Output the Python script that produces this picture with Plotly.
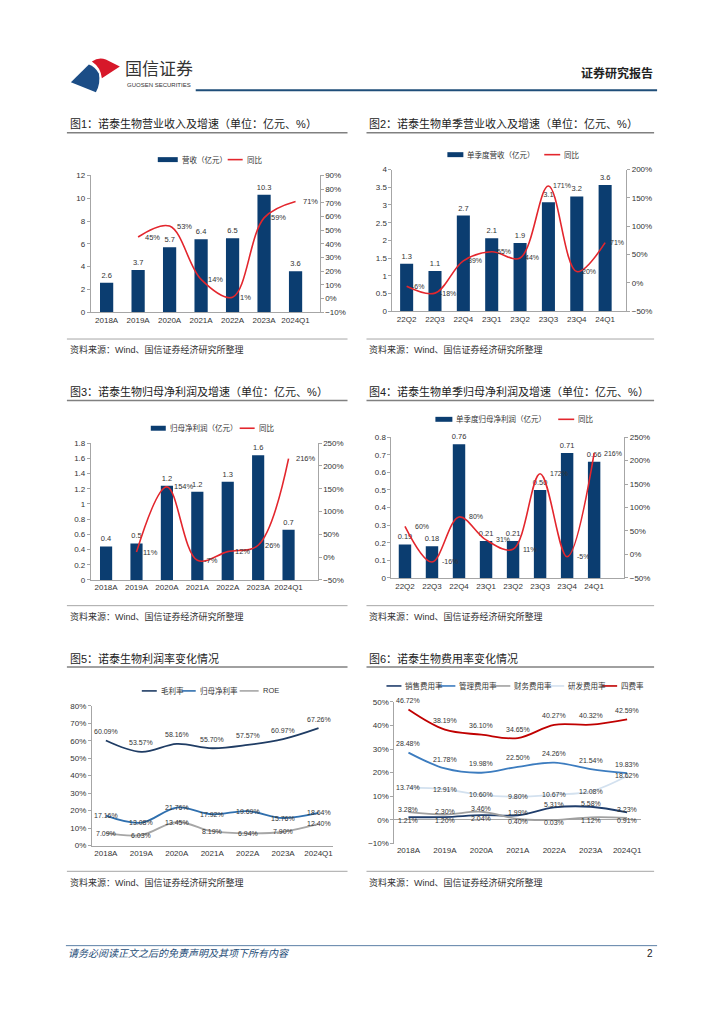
import plotly.graph_objects as go

# ---------------- data ----------------
years = ["2018A", "2019A", "2020A", "2021A", "2022A", "2023A", "2024Q1"]
quarters = ["22Q2", "22Q3", "22Q4", "23Q1", "23Q2", "23Q3", "23Q4", "24Q1"]

rev = [2.6, 3.7, 5.7, 6.4, 6.5, 10.3, 3.6]
rev_yoy = [None, 45, 53, 14, 1, 59, 71]

q_rev = [1.34, 1.14, 2.70, 2.06, 1.93, 3.08, 3.24, 3.56]
q_rev_yoy = [-6, -18, 39, 55, 44, 171, 20, 71]

np_profit = [0.44, 0.48, 1.24, 1.16, 1.29, 1.64, 0.66]
np_yoy = [None, 11, 154, -7, 12, 26, 216]

q_np = [0.19, 0.18, 0.76, 0.21, 0.21, 0.50, 0.71, 0.66]
q_np_yoy = [60, -16, 80, 31, 11, 172, -5, 216]

gross_margin = [60.09, 53.57, 58.16, 55.70, 57.57, 60.97, 67.26]
net_margin = [17.16, 13.08, 21.76, 17.92, 19.69, 15.76, 18.64]
roe = [7.09, 6.03, 13.45, 8.19, 6.94, 7.90, 12.40]

sell_ratio = [1.21, 1.20, 2.04, 1.99, 5.31, 5.58, 3.23]
admin_ratio = [28.48, 21.78, 19.98, 22.50, 24.26, 21.54, 19.83]
fin_ratio = [3.28, 2.30, 3.46, 0.40, 0.03, 1.12, 0.91]
rd_ratio = [13.74, 12.91, 10.60, 9.80, 10.67, 12.08, 18.62]
total_ratio = [46.72, 38.19, 36.10, 34.65, 40.27, 40.32, 42.59]

titles = [
    "图1：诺泰生物营业收入及增速（单位：亿元、%）",
    "图2：诺泰生物单季营业收入及增速（单位：亿元、%）",
    "图3：诺泰生物归母净利润及增速（单位：亿元、%）",
    "图4：诺泰生物单季归母净利润及增速（单位：亿元、%）",
    "图5：诺泰生物利润率变化情况",
    "图6：诺泰生物费用率变化情况",
]
source_text = "资料来源：Wind、国信证券经济研究所整理"

# ---------------- helpers ----------------
W, H = 724, 1024


def X(p):
    return p / W


def Y(p):
    return 1 - p / H


FONT = "Liberation Sans, Arial, Noto Sans CJK SC, sans-serif"
NAVY = "#0b3d70"
RED = "#e3262d"
TXT = "#333333"
AX = "#a6a6a6"
TICKF = dict(size=8, color=TXT)
LABF = dict(size=7.5, color=TXT)

fig = go.Figure()
shapes = []
annotations = []


def ref(p, n):
    return p if n == 1 else f"{p}{n}"


def lname(p, n):
    return p + "axis" if n == 1 else f"{p}axis{n}"


layout_axes = {}


def add_text(x, y, text, size=8, color=TXT, xanchor="left", family=None, **kw):
    f = dict(size=size, color=color)
    if family:
        f["family"] = family
    annotations.append(dict(x=X(x), y=Y(y), xref="paper", yref="paper", text=text,
                            showarrow=False, xanchor=xanchor, yanchor="middle",
                            font=f, **kw))


def hline(x0, x1, y, color, width):
    shapes.append(dict(type="line", xref="paper", yref="paper", x0=X(x0), x1=X(x1),
                       y0=Y(y), y1=Y(y), line=dict(color=color, width=width)))


def leg_bar(x0, x1, yc, text, color=NAVY):
    shapes.append(dict(type="rect", xref="paper", yref="paper", x0=X(x0), x1=X(x1),
                       y0=Y(yc + 2.5), y1=Y(yc - 2.5), fillcolor=color, line=dict(width=0)))
    add_text(x1 + 2, yc, text, size=7.5)


def leg_line(x0, x1, yc, color, text):
    shapes.append(dict(type="line", xref="paper", yref="paper", x0=X(x0), x1=X(x1),
                       y0=Y(yc), y1=Y(yc), line=dict(color=color, width=1.6)))
    add_text(x1 + 2, yc, text, size=7.5)


def yax(panel, rng, dtick, suffix="", **kw):
    d = dict(domain=[Y(panel["b"]), Y(panel["t"])], range=rng, dtick=dtick, tick0=0,
             showgrid=False, zeroline=False, showline=True, linecolor=AX, linewidth=1,
             ticks="outside", ticklen=3, tickcolor=AX, tickfont=TICKF, ticksuffix=suffix,
             fixedrange=True)
    d.update(kw)
    return d


def xax(panel, cats, anchor, **kw):
    d = dict(domain=[X(panel["l"]), X(panel["r"])], type="category",
             categoryorder="array", categoryarray=cats, anchor=anchor,
             showgrid=False, zeroline=False, showline=True, linecolor=AX, linewidth=1,
             ticks="", tickfont=TICKF, fixedrange=True)
    d.update(kw)
    return d


def bar_chart(n, yb, panel, cats, vals, fmt, yoy, lrng, ldt, rrng, rdt, bw, lab_dx, lab_size):
    xr, y1, y2 = ref("x", n), ref("y", yb), ref("y", yb + 1)
    fig.add_trace(go.Bar(x=cats, y=vals, text=[fmt.format(v) for v in vals],
                         textposition="outside", constraintext="none", cliponaxis=False,
                         textfont=LABF, marker=dict(color=NAVY, line=dict(width=0)),
                         width=bw, xaxis=xr, yaxis=y1, showlegend=False))
    fig.add_trace(go.Scatter(x=cats, y=yoy, mode="lines", cliponaxis=False,
                             line=dict(color=RED, width=1.6, shape="spline", smoothing=1.0),
                             xaxis=xr, yaxis=y2, showlegend=False))
    for c, v in zip(cats, yoy):
        if v is None:
            continue
        annotations.append(dict(x=c, y=v, xref=xr, yref=y2, text=f"{v}%", showarrow=False,
                                xanchor="left", yanchor="middle", xshift=lab_dx,
                                font=dict(size=lab_size, color=TXT)))
    layout_axes[lname("x", n)] = xax(panel, cats, y1)
    layout_axes[lname("y", yb)] = yax(panel, lrng, ldt, anchor=xr)
    layout_axes[lname("y", yb + 1)] = yax(panel, rrng, rdt, suffix="%", anchor=xr,
                                          overlaying=y1, side="right")


P1 = dict(l=91, r=320, t=173, b=311)
P2 = dict(l=393, r=627, t=167, b=310)
P3 = dict(l=91, r=318, t=443, b=581)
P4 = dict(l=392, r=625, t=437, b=579)
P5 = dict(l=92, r=333, t=708, b=849)
P6 = dict(l=395, r=642, t=704, b=847)

bar_chart(1, 1, P1, years, rev, "{:.1f}", rev_yoy, [0, 12.0001], 2, [-10, 90.001], 10, 0.42, 5, 7.5)
bar_chart(2, 3, P2, quarters, q_rev, "{:.1f}", q_rev_yoy, [0, 4.0001], 0.5, [-50, 200.01], 50, 0.46, 3, 7)
bar_chart(3, 5, P3, years, np_profit, "{:.1f}", np_yoy, [0, 1.80001], 0.2, [-50, 250.01], 50, 0.40, 5, 7.5)
bar_chart(4, 7, P4, quarters, q_np, "{:.2f}", q_np_yoy, [0, 0.80001], 0.1, [-50, 250.01], 50, 0.46, 8, 7)


def line_chart(n, yb, panel, series, rng, dt, zero_axis=False, pair=None):
    xr, yr = ref("x", n), ref("y", yb)
    for vals, color, width, yshift in series:
        fig.add_trace(go.Scatter(x=years, y=vals, mode="lines", cliponaxis=False,
                                 line=dict(color=color, width=width, shape="spline", smoothing=1.0),
                                 xaxis=xr, yaxis=yr, showlegend=False))
    for si, (vals, color, width, yshift) in enumerate(series):
        for i, (c, v) in enumerate(zip(years, vals)):
            ys = yshift
            if pair and si in pair:
                other = series[pair[1] if si == pair[0] else pair[0]][0][i]
                ys += 3 if v >= other else -3
            annotations.append(dict(x=c, y=v, xref=xr, yref=yr, text=f"{v:.2f}%",
                                    showarrow=False, xanchor="center", yanchor="middle",
                                    yshift=ys, font=dict(size=7, color=TXT)))
    if zero_axis:
        layout_axes[lname("x", n)] = xax(panel, years, yr, showline=False)
        layout_axes[lname("y", yb)] = yax(panel, rng, dt, suffix="%", anchor=xr,
                                          zeroline=True, zerolinecolor=AX, zerolinewidth=1)
    else:
        layout_axes[lname("x", n)] = xax(panel, years, yr)
        layout_axes[lname("y", yb)] = yax(panel, rng, dt, suffix="%", anchor=xr)


C5 = ["#1f3c64", "#2f6fae", "#a6a6a6"]
line_chart(5, 9, P5, [
    (gross_margin, C5[0], 1.8, 9),
    (net_margin, C5[1], 1.8, 0),
    (roe, C5[2], 1.8, 0),
], [0, 80.001], 10)

C6 = ["#1f3d6b", "#3c7cbf", "#a0a0a0", "#d3e1ef", "#c00000"]
line_chart(6, 10, P6, [
    (sell_ratio, C6[0], 1.8, 0),
    (admin_ratio, C6[1], 1.8, 9),
    (fin_ratio, C6[2], 1.8, 0),
    (rd_ratio, C6[3], 1.8, 0),
    (total_ratio, C6[4], 1.8, 9),
], [-10, 50.001], 10, zero_axis=True, pair=(0, 2))

# ---------------- titles, underlines, sources ----------------
title_pos = [(68, 121, 348), (368, 121, 655), (68, 391, 348), (368, 391, 655),
             (68, 660, 348), (368, 660, 655)]
for (x0, yt, x1), t in zip(title_pos, titles):
    add_text(x0, yt, t, size=11, color="#222222")
    hline(x0 - 1, x1, yt + 9, "#808080", 1.5)
for yl in (338, 607, 875):
    for x0, x1 in ((67, 348), (367, 655)):
        hline(x0, x1, yl, "#a6a6a6", 1)
        add_text(x0 + 1, yl + 11, source_text, size=9, color="#333333")

# ---------------- legends ----------------
leg_bar(158, 178, 157, "营收（亿元）")
leg_line(228, 243, 157, RED, "同比")
leg_bar(448, 464, 152, "单季度营收（亿元）")
leg_line(545, 561, 152, RED, "同比")
leg_bar(151, 166, 428, "归母净利润（亿元）")
leg_line(240, 255, 428, RED, "同比")
leg_bar(436, 453, 419, "单季度归母净利润（亿元）")
leg_line(559, 575, 419, RED, "同比")

leg_line(142, 157, 693, C5[0], "毛利率")
leg_line(182, 196, 693, C5[1], "归母净利率")
leg_line(240, 259, 693, C5[2], "ROE")

for (x0, x1, txt), col in zip([(387, 402, "销售费用率"), (439, 456, "管理费用率"),
                               (495, 511, "财务费用率"), (550, 565, "研发费用率"),
                               (603, 618, "四费率")], C6):
    leg_line(x0, x1, 688, col, txt)

# ---------------- header ----------------
shapes.append(dict(type="path", xref="paper", yref="paper",
                   path=f"M {X(71)} {Y(79)} L {X(89)} {Y(61)} Q {X(95)} {Y(63)} {X(99)} {Y(70)} "
                        f"Q {X(101)} {Y(80)} {X(96)} {Y(89)} Z",
                   fillcolor="#1c4d86", line=dict(width=0)))
shapes.append(dict(type="path", xref="paper", yref="paper",
                   path=f"M {X(92)} {Y(58)} Q {X(99)} {Y(53)} {X(106)} {Y(56)} L {X(120)} {Y(63)} "
                        f"L {X(102)} {Y(75)} Q {X(101)} {Y(64)} {X(92)} {Y(58)} Z",
                   fillcolor="#d7182a", line=dict(width=0)))
add_text(123, 66, "国信证券", size=17, color="#333333")
add_text(125, 82, "GUOSEN SECURITIES", size=6, color="#333333")
hline(196, 658, 87, "#1f4e79", 2.2)
add_text(656, 70, "<b>证券研究报告</b>", size=12, color="#222222", xanchor="right")

# ---------------- footer ----------------
hline(66, 658, 950, "#5b7fa6", 1)
add_text(66, 958, "<i>请务必阅读正文之后的免责声明及其项下所有内容</i>", size=10, color="#1f4e79")
add_text(656, 958, "2", size=10, color="#222222", xanchor="right")

fig.update_layout(
    width=W, height=H, autosize=False,
    margin=dict(l=0, r=0, t=0, b=0, pad=0),
    paper_bgcolor="white", plot_bgcolor="white",
    font=dict(family=FONT, color=TXT),
    showlegend=False, bargap=0.5,
    shapes=shapes, annotations=annotations,
    **layout_axes,
)

fig.write_html("out.html", config={"displayModeBar": False},
               post_script="document.body.style.margin='0';")
